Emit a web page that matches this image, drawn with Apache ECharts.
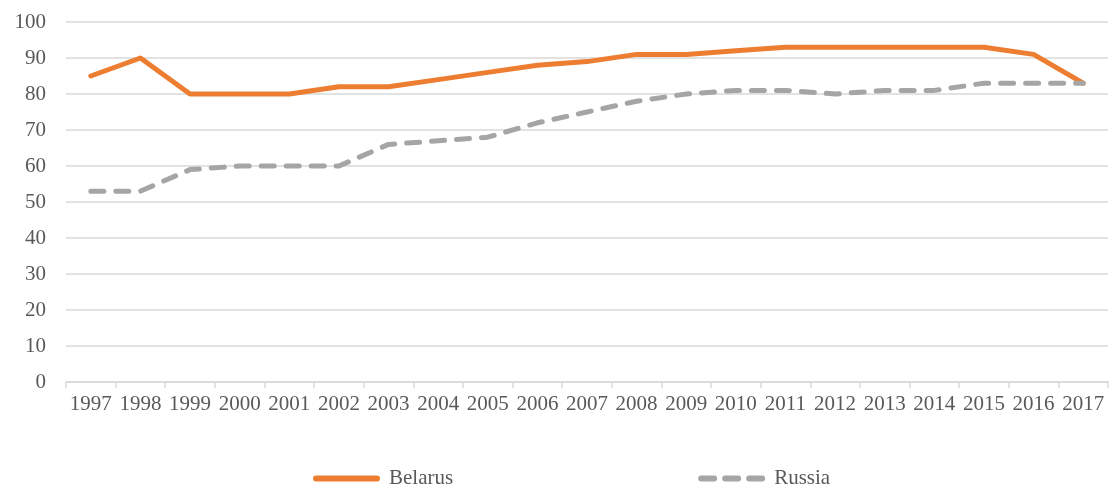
<!DOCTYPE html>
<html>
<head>
<meta charset="utf-8">
<script src="https://cdn.jsdelivr.net/npm/echarts@6/dist/echarts.min.js"></script>
<style>html,body{margin:0;padding:0;background:#fff}#c{width:1109px;height:491px}</style>
</head>
<body>
<div id="c"></div>
<script>
const years = ['1997','1998','1999','2000','2001','2002','2003','2004','2005','2006','2007','2008','2009','2010','2011','2012','2013','2014','2015','2016','2017'];
const belarus = [85, 90, 80, 80, 80, 82, 82, 84, 86, 88, 89, 91, 91, 92, 93, 93, 93, 93, 93, 91, 83];
const russia = [53, 53, 59, 60, 60, 60, 66, 67, 68, 72, 75, 78, 80, 81, 81, 80, 81, 81, 83, 83, 83];
const yTicks = {min: 0, max: 100, interval: 10};

const chart = echarts.init(document.getElementById('c'), null, {renderer: 'canvas'});
const font = '"Liberation Serif", "Times New Roman", serif';
chart.setOption({
  animation: false,
  grid: {left: 66, right: 1, top: 22, bottom: 109, containLabel: false},
  xAxis: {
    type: 'category',
    data: years,
    boundaryGap: true,
    axisLine: {lineStyle: {color: '#d9d9d9', width: 1.5}},
    axisTick: {show: true, length: 6, lineStyle: {color: '#d9d9d9', width: 1.5}},
    axisLabel: {color: '#595959', fontFamily: font, fontSize: 21, margin: 12, interval: 0}
  },
  yAxis: {
    type: 'value',
    min: yTicks.min, max: yTicks.max, interval: yTicks.interval,
    axisLine: {show: false},
    axisTick: {show: false},
    splitLine: {lineStyle: {color: '#d9d9d9', width: 1.5}},
    axisLabel: {color: '#595959', fontFamily: font, fontSize: 21, margin: 20}
  },
  legend: {
    left: 308, top: 463,
    itemWidth: 67, itemHeight: 6, itemGap: 245,
    textStyle: {color: '#595959', fontFamily: font, fontSize: 21, padding: [0, 0, 0, 4]},
    data: [
      {name: 'Belarus', icon: 'path://M3,0H64A3,3 0 0 1 64,6H3A3,3 0 0 1 3,0Z'},
      {name: 'Russia', icon: 'path://M3,0H16A3,3 0 0 1 16,6H3A3,3 0 0 1 3,0Z M27,0H40A3,3 0 0 1 40,6H27A3,3 0 0 1 27,0Z M51,0H64A3,3 0 0 1 64,6H51A3,3 0 0 1 51,0Z'}
    ]
  },
  series: [
    {name: 'Belarus', type: 'line', data: belarus, symbol: 'none', showSymbol: false,
     lineStyle: {color: '#ED7D31', width: 5, cap: 'round', join: 'round'}, itemStyle: {color: '#ED7D31'}},
    {name: 'Russia', type: 'line', data: russia, symbol: 'none', showSymbol: false,
     lineStyle: {color: '#A5A5A5', width: 5, type: [13, 12], cap: 'round', join: 'round'}, itemStyle: {color: '#A5A5A5'}}
  ]
});
</script>
</body>
</html>
